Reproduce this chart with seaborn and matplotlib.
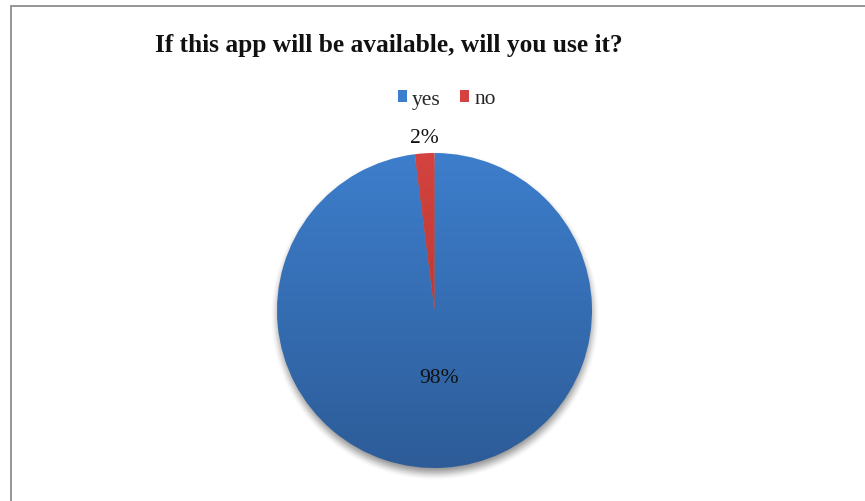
import numpy as np
import matplotlib
matplotlib.use("Agg")
import matplotlib.pyplot as plt
from matplotlib.patches import Rectangle, Patch
from matplotlib.colors import LinearSegmentedColormap
import seaborn as sns

# Survey answers
categories = ["yes", "no"]
shares = [98, 2]
pct_labels = ["98%", "2%"]
title = "If this app will be available, will you use it?"

sns.set_theme(style="white")
plt.rcParams["font.family"] = ["Liberation Serif", "DejaVu Serif"]

# top / bottom shades for each slice (vertical gradient)
shades = {
    "yes": ("#3d7ecc", "#2d5c98"),
    "no": ("#d4433f", "#a8312d"),
}

W, H, DPI = 865, 502, 100
fig = plt.figure(figsize=(W / DPI, H / DPI), dpi=DPI)
fig.patch.set_facecolor("white")

# chart frame (right and bottom edges run off the canvas)
frame = Rectangle((11 / W, -0.05), 1.2, (H - 6.5) / H + 0.05,
                  transform=fig.transFigure, fill=False,
                  edgecolor="#8e8e8e", linewidth=1.3, zorder=0)
fig.patches.append(frame)

# pie axes: 1 data unit = radius
R_PX = 157.5
cx, cy = 434.5, H - 311.5
half = 220
ax = fig.add_axes([(cx - half) / W, (cy - half) / H, 2 * half / W, 2 * half / H])
lim = half / R_PX

# soft drop shadow under the pie
gx = np.linspace(-lim, lim, 600)
X, Y = np.meshgrid(gx, gx)
d = np.hypot(X, Y + 0.03)
blur = 0.05
a = np.clip((1.0 + blur - d) / (2 * blur), 0, 1)
a = a * a * (3 - 2 * a) * 0.45
shadow = np.zeros((600, 600, 4))
shadow[..., 3] = a
ax.imshow(shadow, extent=(-lim, lim, -lim, lim), origin="lower", zorder=1,
          interpolation="bilinear")

wedges, _ = ax.pie(shares, startangle=90, counterclock=False, radius=1,
                   wedgeprops=dict(linewidth=0))
grad = np.linspace(0, 1, 256).reshape(-1, 1)
for w, cat in zip(wedges, categories):
    w.set_facecolor("none")
    w.set_zorder(3)
    top, bottom = shades[cat]
    cmap = LinearSegmentedColormap.from_list(cat, [bottom, top])
    im = ax.imshow(grad, extent=(-1, 1, -1, 1), origin="lower", cmap=cmap,
                   aspect="auto", zorder=2, interpolation="bilinear")
    im.set_clip_path(w)

# percentage labels
total = sum(shares)
start = 90.0
label_dist = [0.457, 1.07]
for share, text, dist in zip(shares, pct_labels, label_dist):
    span = 360.0 * share / total
    mid = np.deg2rad(start - span / 2)
    start -= span
    ax.text(dist * np.cos(mid), dist * np.sin(mid), text, ha="center",
            va="baseline", fontsize=15.5, color="#111111", zorder=5)

ax.set_xlim(-lim, lim)
ax.set_ylim(-lim, lim)
ax.set_aspect("equal")
ax.axis("off")

fig.text(389 / W, 1 - 52 / H, title, ha="center", va="baseline",
         fontsize=18.3, fontweight="bold", color="#111111")

handles = [Patch(facecolor=shades[c][0], edgecolor="none", label=c)
           for c in categories]
fig.legend(handles=handles, loc="center", bbox_to_anchor=(447 / W, 1 - 100 / H),
           ncol=2, frameon=False, fontsize=15.5, handlelength=0.4,
           handleheight=0.45, handletextpad=0.25, columnspacing=0.9,
           borderpad=0, borderaxespad=0)

fig.savefig("out.png", dpi=DPI, facecolor="white")
